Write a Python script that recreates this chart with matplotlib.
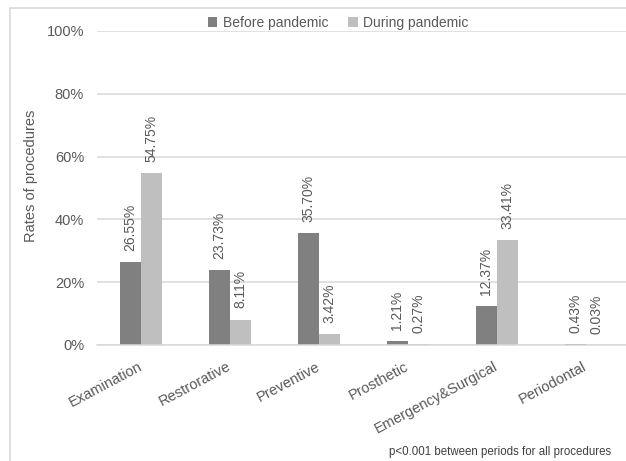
import matplotlib
matplotlib.use("Agg")
import matplotlib.pyplot as plt
from matplotlib.patches import Rectangle
import numpy as np

plt.rcParams['font.family'] = ['Liberation Sans', 'DejaVu Sans']

categories = ["Examination", "Restrorative", "Preventive", "Prosthetic",
              "Emergency&Surgical", "Periodontal"]
before = [26.55, 23.73, 35.70, 1.21, 12.37, 0.43]
during = [54.75, 8.11, 3.42, 0.27, 33.41, 0.03]
series_names = ["Before pandemic", "During pandemic"]
yticks = [0, 20, 40, 60, 80, 100]
note = "p<0.001 between periods for all procedures"

dark = "#808080"
light = "#bfbfbf"
grid = "#d9d9d9"
txt = "#595959"

W, H = 626, 461
fig = plt.figure(figsize=(W / 100, H / 100), dpi=100)

# outer chart frame (partly outside the canvas on the right and bottom)
fig.patches.append(Rectangle((9.5 / W, -0.1), 1.2, 1 - 7.5 / H + 0.1,
                             transform=fig.transFigure, fill=False,
                             edgecolor=grid, linewidth=1.2))

ax_left, ax_w = 96.5 / W, 534 / W
ax_bottom, ax_h = 116 / H, 314 / H
ax = fig.add_axes([ax_left, ax_bottom, ax_w, ax_h])

x = np.arange(len(categories))
bw = 0.225
off = 0.118
b1 = ax.bar(x - off, before, bw, color=dark, label=series_names[0], zorder=3)
b2 = ax.bar(x + off, during, bw, color=light, label=series_names[1], zorder=3)

for bars, vals in ((b1, before), (b2, during)):
    for r, v in zip(bars, vals):
        ax.annotate(f"{v:.2f}%", (r.get_x() + r.get_width() / 2, v),
                    xytext=(0, 8), textcoords="offset points",
                    rotation=90, ha="center", va="bottom",
                    fontsize=10, color=txt)

ax.set_xlim(-0.5, len(categories) - 0.5)
ax.set_ylim(0, 100)
ax.set_yticks(yticks)
ax.set_yticklabels([f"{t}%" for t in yticks], fontsize=10.5, color=txt)
ax.yaxis.grid(True, color=grid, linewidth=1.1, zorder=0)
ax.tick_params(axis="y", length=0, pad=9)
ax.tick_params(axis="x", length=0)
ax.set_xticks(x)
ax.set_xticklabels(categories, rotation=28, ha="right", va="center",
                   rotation_mode="anchor", fontsize=10.5, color=txt)
for lab in ax.get_xticklabels():
    lab.set_y(-0.05)

for s in ("top", "right", "left"):
    ax.spines[s].set_visible(False)
ax.spines["bottom"].set_color(grid)
ax.spines["bottom"].set_linewidth(1.1)
ax.spines["bottom"].set_zorder(4)

ax.set_ylabel("Rates of procedures", fontsize=10.5, color=txt)
ax.yaxis.set_label_coords(-0.11, 0.54)

fig.legend(loc="center", bbox_to_anchor=(338 / W, 1 - 23 / H), ncol=2,
           frameon=False, fontsize=10, labelcolor=txt,
           handlelength=0.7, handleheight=0.7, handletextpad=0.4,
           columnspacing=1.4)

fig.text(611 / W, 1 - 452 / H, note, ha="right", va="center",
         fontsize=8.3, color="#404040")

fig.savefig("out.png", dpi=100, facecolor="white")
